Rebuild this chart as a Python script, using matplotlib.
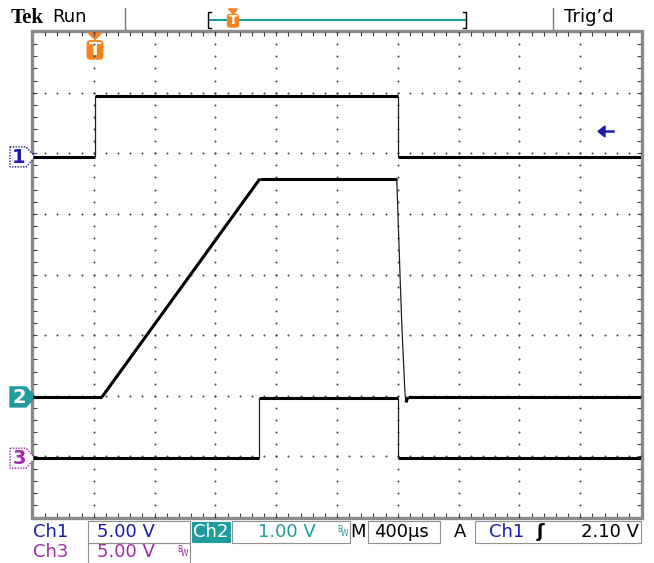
import numpy as np
import matplotlib
matplotlib.use("Agg")
import matplotlib.pyplot as plt
from matplotlib.patches import Polygon, Rectangle, FancyBboxPatch

# ---------------- data ----------------
time_per_div = 400.0          # µs/div
trigger_div = 1.02            # trigger position (div from left)
n_xdiv, n_ydiv = 10, 8

ch1_vdiv, ch2_vdiv, ch3_vdiv = 5.0, 1.0, 5.0
ch1_pos, ch2_pos, ch3_pos = 5.94, 1.98, 0.97   # ground positions (div from bottom)

ch1_t = [-408, 0, 0, 1992, 1992, 3592]
ch1_v = [0.0, 0.0, 5.0, 5.0, 0.0, 0.0]

ch2_t = [-408, 46, 1085, 1985, 2007, 2018, 2029, 2039, 2046, 2059, 3592]
ch2_v = [0.0, 0.0, 3.6, 3.6, 1.98, 1.22, 0.61, 0.07, -0.09, 0.0, 0.0]

ch3_t = [-408, 1079, 1079, 1992, 1992, 3592]
ch3_v = [0.0, 0.0, 5.0, 5.0, 0.0, 0.0]

trig_level = 2.10
readout = {"ch1": "5.00 V", "ch2": "1.00 V", "ch3": "5.00 V",
           "time": "400µs", "trig": "2.10 V"}

C_BLUE = "#1c1ca8"
C_TEAL = "#1f9c9c"
C_PURP = "#a02ca8"
C_ORNG = "#f5821f"

W, H = 654, 563
fig = plt.figure(figsize=(W / 100, H / 100), dpi=100)
fig.patch.set_facecolor("white")

ov = fig.add_axes([0, 0, 1, 1])
ov.set_xlim(0, W)
ov.set_ylim(H, 0)
ov.axis("off")

L, R, T, B = 33, 641, 32, 517
ax = fig.add_axes([L / W, (H - B) / H, (R - L) / W, (B - T) / H])
ax.set_xlim(0, n_xdiv)
ax.set_ylim(0, n_ydiv)
ax.axis("off")
ax.set_zorder(2)
ax.patch.set_alpha(0)


def tx(t):
    return np.asarray(t, dtype=float) / time_per_div + trigger_div


def vy(v, vdiv, pos):
    return np.asarray(v, dtype=float) / vdiv + pos


# grid dots
gx, gy = [], []
for k in range(1, n_xdiv):
    ys = np.arange(0, n_ydiv + 0.001, 0.2)
    gx += [k] * len(ys)
    gy += list(ys)
for k in range(1, n_ydiv):
    xs = np.arange(0, n_xdiv + 0.001, 0.2)
    gx += list(xs)
    gy += [k] * len(xs)
ax.scatter(gx, gy, s=2.0, color="#404040", linewidths=0, zorder=1)

# border ticks
minor = np.arange(0.2, n_xdiv, 0.2)
ax.vlines(minor, n_ydiv - 0.06, n_ydiv, color="#404040", lw=0.8, zorder=1)
ax.vlines(minor, 0, 0.06, color="#404040", lw=0.8, zorder=1)
minory = np.arange(0.2, n_ydiv, 0.2)
ax.hlines(minory, 0, 0.06, color="#404040", lw=0.8, zorder=1)
ax.hlines(minory, n_xdiv - 0.06, n_xdiv, color="#404040", lw=0.8, zorder=1)

ov.add_patch(Rectangle((L - 1, T - 1), R - L + 2, B - T + 2, fill=False,
                       ec="#8a8a8a", lw=2.4, zorder=3))


def trace(t, v, vdiv, pos):
    x = tx(t)
    y = vy(v, vdiv, pos)
    for i in range(len(x) - 1):
        dx = abs(x[i + 1] - x[i])
        dy = abs(y[i + 1] - y[i])
        steep = dx < 1e-9 or dy / dx > 8
        ax.plot(x[i:i + 2], y[i:i + 2], color="#202020" if steep else "black",
                lw=0.9 if steep else 2.2, solid_capstyle="butt", zorder=4)


trace(ch1_t, ch1_v, ch1_vdiv, ch1_pos)
trace(ch2_t, ch2_v, ch2_vdiv, ch2_pos)
trace(ch3_t, ch3_v, ch3_vdiv, ch3_pos)


def px_y(div):
    return B - div * (B - T) / n_ydiv


def px_x(div):
    return L + div * (R - L) / n_xdiv


def chan_marker(y, label, color, filled):
    pts = [(10, y - 10), (26, y - 10), (35, y), (26, y + 10), (10, y + 10)]
    if filled:
        ov.add_patch(Polygon(pts, closed=True, fc=color, ec=color, lw=1, zorder=5))
        ov.text(19, y + 0.5, label, color="white", fontsize=14, fontweight="bold",
                ha="center", va="center", zorder=6)
    else:
        ov.add_patch(Polygon(pts, closed=True, fc="white", ec=color, lw=1,
                             ls=(0, (1, 1)), zorder=5))
        ov.text(19, y + 0.5, label, color=color, fontsize=14, fontweight="bold",
                ha="center", va="center", zorder=6)


chan_marker(px_y(ch1_pos), "1", C_BLUE, False)
chan_marker(px_y(ch2_pos), "2", C_TEAL, True)
chan_marker(px_y(ch3_pos), "3", C_PURP, False)

ty = px_y(ch1_pos + trig_level / ch1_vdiv)
ov.add_patch(Polygon([(598, ty), (605, ty - 5.5), (605, ty + 5.5)], closed=True,
                     fc=C_BLUE, ec=C_BLUE, zorder=6))
ov.plot([604, 613], [ty, ty], color=C_BLUE, lw=1.8, zorder=6)


def t_marker(x, ytop, s):
    ov.add_patch(Polygon([(x - 5 * s, ytop), (x + 5 * s, ytop), (x, ytop + 5 * s)],
                         closed=True, fc=C_ORNG, ec=C_ORNG, zorder=7))
    ov.add_patch(FancyBboxPatch((x - 6 * s, ytop + 6 * s), 12 * s, 14 * s,
                                boxstyle="round,pad=0,rounding_size=%g" % (2.5 * s),
                                fc=C_ORNG, ec=C_ORNG, zorder=7))
    ov.text(x, ytop + 13.2 * s, "T", color="white", fontsize=10 * s,
            fontweight="bold", ha="center", va="center", zorder=8)


t_marker(px_x(trigger_div), 33, 1.3)

# top status bar
ov.text(11, 18, "Tek", fontsize=15, fontweight="bold", family="Liberation Serif",
        ha="left", va="center")
ov.text(52, 17, "Run", fontsize=13, ha="left", va="center")
ov.plot([125, 125], [8, 31], color="#777777", lw=1)
ov.plot([553, 553], [8, 31], color="#777777", lw=1)
ov.text(564, 17, "Trig\u2019d", fontsize=13, ha="left", va="center")
ov.plot([210, 466], [20, 20], color=C_TEAL, lw=1.5)
ov.plot([211, 208, 208, 211], [12, 12, 28, 28], color="black", lw=1)
ov.plot([463, 466, 466, 463], [12, 12, 28, 28], color="black", lw=1)
t_marker(233, 9, 0.9)

# bottom readout
fs = 13
ry1, ry2 = 532, 552
ov.text(33, ry1, "Ch1", color=C_BLUE, fontsize=fs, ha="left", va="center")
ov.add_patch(Rectangle((88, 521), 102, 22, fill=False, ec="#909090", lw=0.8))
ov.text(97, ry1, readout["ch1"], color=C_BLUE, fontsize=fs, ha="left", va="center")

ov.add_patch(Rectangle((192, 522), 38, 20, fc=C_TEAL, ec=C_TEAL, lw=0.8))
ov.text(211, ry1, "Ch2", color="white", fontsize=fs, ha="center", va="center")
ov.add_patch(Rectangle((232, 521), 118, 22, fill=False, ec="#909090", lw=0.8))
ov.text(258, ry1, readout["ch2"], color=C_TEAL, fontsize=fs, ha="left", va="center")
ov.text(337, ry1 + 2, "B", color=C_TEAL, fontsize=5.5, ha="left", va="bottom")
ov.text(341, ry1 + 6, "W", color=C_TEAL, fontsize=5.5, ha="left", va="bottom")

ov.text(350, ry1, "M", color="black", fontsize=fs, ha="left", va="center")
ov.add_patch(Rectangle((368, 521), 72, 22, fill=False, ec="#909090", lw=0.8))
ov.text(374, ry1, readout["time"], color="black", fontsize=fs, ha="left", va="center")

ov.text(454, ry1, "A", color="black", fontsize=fs, ha="left", va="center")
ov.add_patch(Rectangle((475, 521), 166, 22, fill=False, ec="#909090", lw=0.8))
ov.text(489, ry1, "Ch1", color=C_BLUE, fontsize=fs, ha="left", va="center")
ov.text(537, ry1, "\u0283", color="black", fontsize=fs, fontweight="bold",
        ha="left", va="center")
ov.text(639, ry1, readout["trig"], color="black", fontsize=fs, ha="right", va="center")

ov.text(33, ry2, "Ch3", color=C_PURP, fontsize=fs, ha="left", va="center")
ov.add_patch(Rectangle((88, 543), 102, 20, fill=False, ec="#909090", lw=0.8))
ov.text(97, ry2, readout["ch3"], color=C_PURP, fontsize=fs, ha="left", va="center")
ov.text(177, ry2 + 2, "B", color=C_PURP, fontsize=5.5, ha="left", va="bottom")
ov.text(181, ry2 + 6, "W", color=C_PURP, fontsize=5.5, ha="left", va="bottom")

fig.savefig("out.png", dpi=100, facecolor="white")
